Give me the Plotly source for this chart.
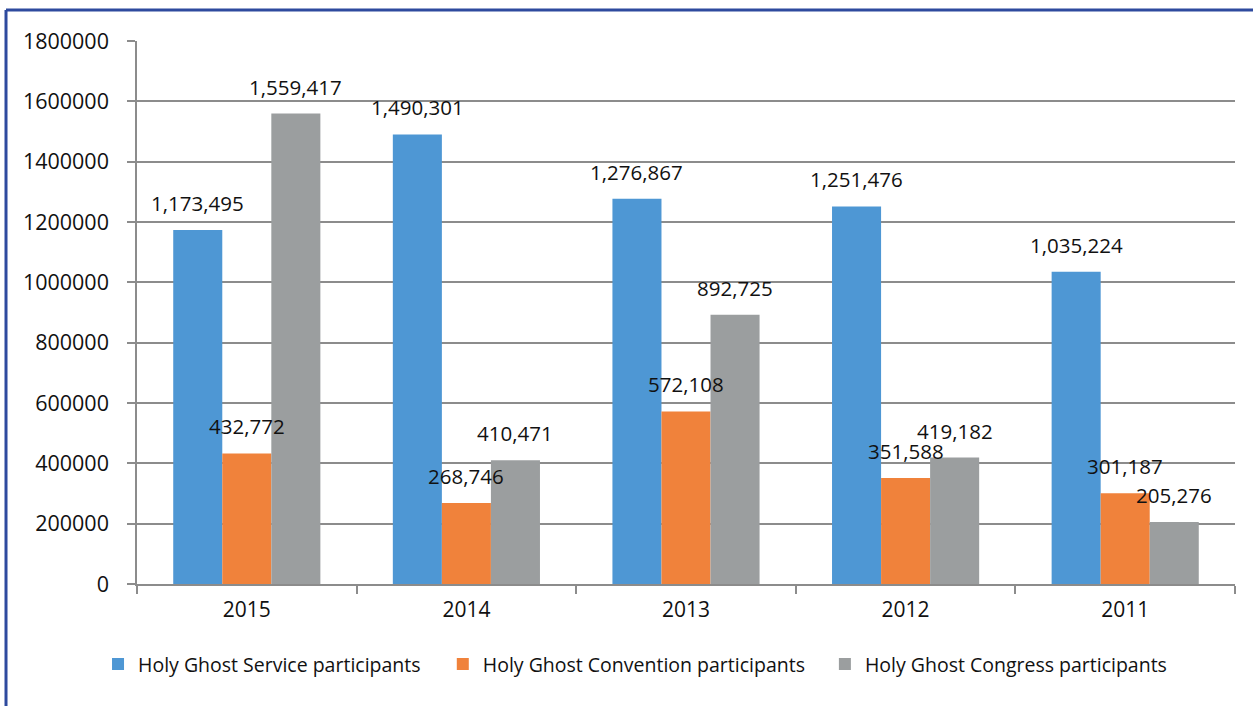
import plotly.graph_objects as go

years = ["2015", "2014", "2013", "2012", "2011"]
service = [1173495, 1490301, 1276867, 1251476, 1035224]
convention = [432772, 268746, 572108, 351588, 301187]
congress = [1559417, 410471, 892725, 419182, 205276]
series_names = ["Holy Ghost Service participants",
                "Holy Ghost Convention participants",
                "Holy Ghost Congress participants"]
colors = ["#4E97D4", "#F0823B", "#9B9E9F"]
y_ticks = [0, 200000, 400000, 600000, 800000, 1000000, 1200000, 1400000, 1600000, 1800000]

FONT = "Open Sans"
TXT = "#111111"
BARGAP = 0.33
legend_x = [-0.0355, 0.2785, 0.6265]

fig = go.Figure()
all_series = [service, convention, congress]
legend_ids = ["legend", "legend2", "legend3"]
for i, (name, vals, col) in enumerate(zip(series_names, all_series, colors)):
    fig.add_trace(go.Bar(
        x=years, y=vals, name=name, marker=dict(color=col, line=dict(width=0)),
        legend=legend_ids[i], showlegend=True,
    ))

# data labels via annotations positioned on the category axis
grp = 1 - BARGAP
for i, vals in enumerate(all_series):
    for j, v in enumerate(vals):
        fig.add_annotation(
            x=j + (i - 1) * grp / 3, y=v, xref="x", yref="y",
            text=f"{v:,}", showarrow=False, yanchor="bottom", yshift=12,
            font=dict(family=FONT, size=20.5, color=TXT), borderpad=0,
        )

legend_common = dict(orientation="h", yanchor="middle", y=-0.148, xanchor="left",
                     font=dict(family=FONT, size=19.5, color=TXT),
                     bgcolor="rgba(0,0,0,0)", visible=True)
fig.update_layout(
    width=1253, height=706,
    margin=dict(l=137, r=18, t=41, b=122),
    paper_bgcolor="white", plot_bgcolor="white",
    showlegend=True,
    barmode="group", bargap=BARGAP, bargroupgap=0,
    font=dict(family=FONT, size=20, color=TXT),
    legend=dict(x=legend_x[0], **legend_common),
    legend2=dict(x=legend_x[1], **legend_common),
    legend3=dict(x=legend_x[2], **legend_common),
    xaxis=dict(
        type="category", showgrid=False, showline=True, linecolor="#8C8C8C", linewidth=1.5,
        ticks="outside", tickson="boundaries", ticklen=8, tickcolor="#8C8C8C", tickwidth=1.5,
        tickfont=dict(family=FONT, size=21, color=TXT), ticklabelstandoff=6,
    ),
    yaxis=dict(
        range=[0, 1800000], tickvals=y_ticks, ticktext=[str(t) for t in y_ticks],
        showgrid=True, gridcolor="#8C8C8C", gridwidth=1.5,
        showline=True, linecolor="#8C8C8C", linewidth=1.5,
        ticks="outside", ticklen=8, tickcolor="#8C8C8C", tickwidth=1.5,
        tickfont=dict(family=FONT, size=21.5, color=TXT), ticklabelstandoff=14,
        zeroline=False,
    ),
)

# frame border (top and left) like the source image
fig.add_shape(type="line", xref="paper", yref="paper",
              x0=-0.1193, x1=1.02, y0=1.057, y1=1.057,
              line=dict(color="#2E4A9E", width=3))
fig.add_shape(type="line", xref="paper", yref="paper",
              x0=-0.1193, x1=-0.1193, y0=1.057, y1=-0.23,
              line=dict(color="#2E4A9E", width=3))

fig.write_html("out.html")
